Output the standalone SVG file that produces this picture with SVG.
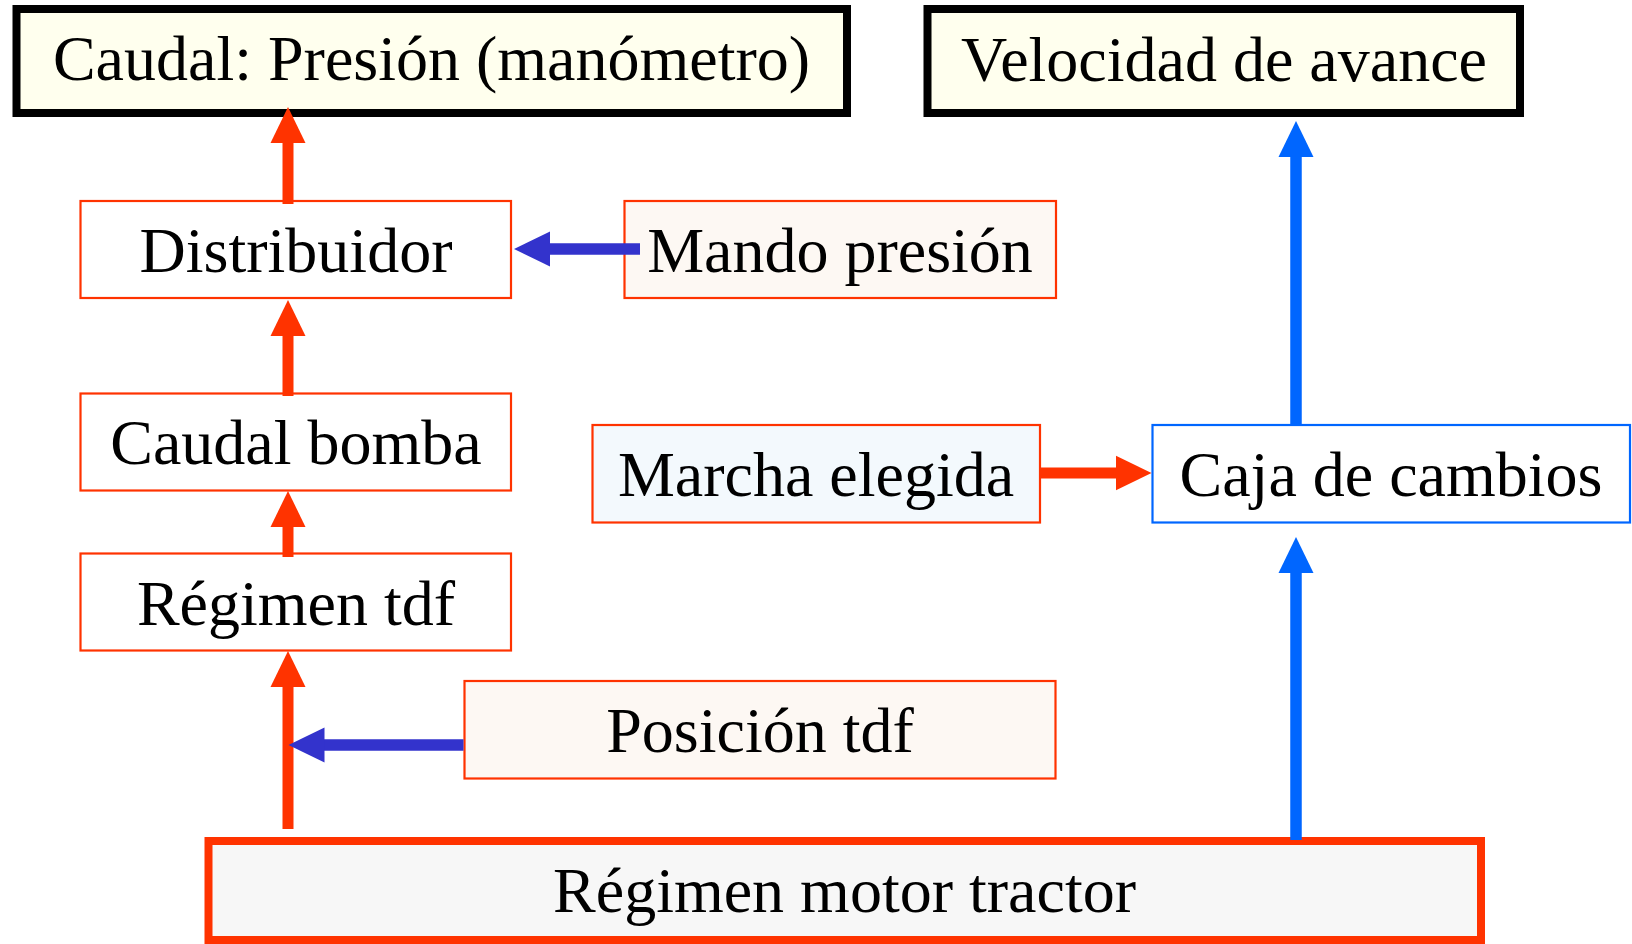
<svg xmlns="http://www.w3.org/2000/svg" width="1632" height="944" viewBox="0 0 1632 944">
  <style>
    text { font-family: "Liberation Serif", "Times New Roman", serif; font-size: 64px; fill: #000000; text-anchor: middle; }
    .thick { stroke: #000000; stroke-width: 8; fill: #ffffee; }
    .motor { stroke: #ff3300; stroke-width: 8; fill: #f7f7f7; }
    .thin { stroke: #ff3300; stroke-width: 2.2; fill: #ffffff; }
    .warm { stroke: #ff3300; stroke-width: 2.2; fill: #fdf8f3; }
    .cool { stroke: #ff3300; stroke-width: 2.2; fill: #f3f9fd; }
    .blue { stroke: #0066ff; stroke-width: 2.2; fill: #ffffff; }
    .cr { stroke: #ff3300; stroke-width: 11; fill: none; }
    .cb { stroke: #0066ff; stroke-width: 11.5; fill: none; }
    .cd { stroke: #3333cc; stroke-width: 11.5; fill: none; }
  </style>
  <defs>
    <marker id="ar" markerUnits="userSpaceOnUse" markerWidth="37" markerHeight="36" viewBox="-1 -18 37 36" refX="0" refY="0" orient="auto">
      <path d="M-1,-17.5 L35,0 L-1,17.5 z" fill="#ff3300"/>
    </marker>
    <marker id="ab" markerUnits="userSpaceOnUse" markerWidth="37" markerHeight="36" viewBox="-1 -18 37 36" refX="0" refY="0" orient="auto">
      <path d="M-1,-17.5 L35,0 L-1,17.5 z" fill="#0066ff"/>
    </marker>
    <marker id="ad" markerUnits="userSpaceOnUse" markerWidth="37" markerHeight="36" viewBox="-1 -18 37 36" refX="0" refY="0" orient="auto">
      <path d="M-1,-17.5 L35,0 L-1,17.5 z" fill="#3333cc"/>
    </marker>
  </defs>

  <g id="caudal-presion">
    <rect class="thick" x="16.5" y="9" width="830.5" height="104"/>
    <text x="431.5" y="80">Caudal: Presión (manómetro)</text>
  </g>
  <g id="velocidad">
    <rect class="thick" x="927.5" y="9" width="592.5" height="104"/>
    <text x="1224" y="81">Velocidad de avance</text>
  </g>
  <g id="distribuidor">
    <rect class="thin" x="80.5" y="201" width="430.5" height="97"/>
    <text x="296" y="271.5">Distribuidor</text>
  </g>
  <g id="mando-presion">
    <rect class="warm" x="624.5" y="201" width="431.5" height="97"/>
    <text x="840" y="271.5">Mando presión</text>
  </g>
  <g id="caudal-bomba">
    <rect class="thin" x="80.5" y="393.5" width="430.5" height="97"/>
    <text x="296" y="464">Caudal bomba</text>
  </g>
  <g id="marcha">
    <rect class="cool" x="592.5" y="425" width="447.5" height="97.5"/>
    <text x="816" y="496">Marcha elegida</text>
  </g>
  <g id="caja">
    <rect class="blue" x="1152.5" y="425" width="477.5" height="97.5"/>
    <text x="1391" y="496">Caja de cambios</text>
  </g>
  <g id="regimen-tdf">
    <rect class="thin" x="80.5" y="553.5" width="430.5" height="97"/>
    <text x="296" y="624.5">Régimen tdf</text>
  </g>
  <g id="posicion-tdf">
    <rect class="warm" x="464.5" y="681" width="591" height="97.5"/>
    <text x="760" y="751.5">Posición tdf</text>
  </g>
  <g id="motor">
    <rect class="motor" x="208.5" y="841" width="1272.5" height="99"/>
    <text x="844.5" y="911.5">Régimen motor tractor</text>
  </g>

  <g id="connectors">
    <line class="cr" x1="288" y1="204" x2="288" y2="142" marker-end="url(#ar)"/>
    <line class="cr" x1="288" y1="396" x2="288" y2="335" marker-end="url(#ar)"/>
    <line class="cr" x1="288" y1="557" x2="288" y2="526" marker-end="url(#ar)"/>
    <line class="cr" x1="288" y1="829" x2="288" y2="686" marker-end="url(#ar)"/>
    <line class="cd" x1="463.5" y1="745" x2="323.5" y2="745" marker-end="url(#ad)"/>
    <line class="cd" x1="640" y1="249" x2="549" y2="249" marker-end="url(#ad)"/>
    <line class="cr" x1="1040" y1="473" x2="1116.5" y2="473" marker-end="url(#ar)"/>
    <line class="cb" x1="1296" y1="424" x2="1296" y2="156" marker-end="url(#ab)"/>
    <line class="cb" x1="1296" y1="840" x2="1296" y2="572" marker-end="url(#ab)"/>
  </g>
</svg>
